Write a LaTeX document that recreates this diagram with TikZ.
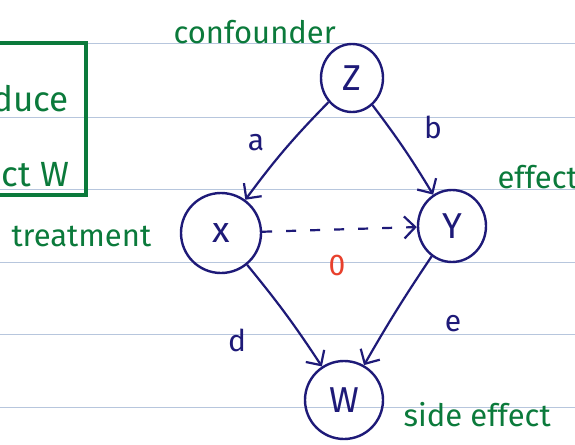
\documentclass[tikz,border=0pt]{standalone}
\usepackage{fontspec}
\setmainfont{Fira Sans}
\usetikzlibrary{arrows.meta,shapes.geometric}
\definecolor{ink}{HTML}{1E1A78}
\definecolor{pen}{HTML}{0B7A3B}
\definecolor{redpen}{HTML}{E8402C}
\definecolor{rule}{HTML}{B7C6DD}
\tikzset{
  var/.style={draw=ink, line width=2.4pt, ellipse, text=ink, font=\fontsize{36}{40}\selectfont, inner sep=0pt},
  arr/.style={draw=ink, line width=2.2pt, -{Straight Barb[length=11pt,width=22pt,line width=2.2pt]}},
  lab/.style={text=ink, font=\fontsize{30}{34}\selectfont},
  note/.style={text=pen, font=\fontsize{31}{35}\selectfont},
  bignote/.style={text=pen, font=\fontsize{35}{40}\selectfont},
  rl/.style={draw=rule, line width=1pt}
}
\begin{document}
\begin{tikzpicture}[x=1pt,y=-1pt]
\useasboundingbox (0,0) rectangle (575,444);
\clip (0,0) rectangle (575,444);
\fill[white] (0,0) rectangle (575,444);
% ruled paper
\foreach \y/\n in {44/r1,117/r2,189/r3,262/r4,334/r5,407/r6}
  \draw[rl] (0,\y) coordinate (\n a) -- (575,\y) coordinate (\n b);
% green box with note
\draw[pen, line width=3.5pt] (-20,43) rectangle (86,195);
\node[bignote, anchor=base east] (t1) at (72,111) {produce};
\node[bignote, anchor=base east] (t2) at (73,186) {effect W};
% variables
\node[var, minimum width=62pt, minimum height=68pt] (Z) at (352,78) {Z};
\node[var, minimum width=80pt, minimum height=80pt] (X) at (221,233) {x};
\node[var, minimum width=68pt, minimum height=72pt] (Y) at (452,226) {Y};
\node[var, minimum width=78pt, minimum height=78pt] (W) at (344,400) {W};
% annotations
\node[note, anchor=base west] (cf) at (170,44) {confounder};
\node[note, anchor=base west] (tr) at (8,246) {treatment};
\node[note, anchor=base west] (ef) at (494,188) {effect};
\node[note, anchor=base west] (se) at (400,426) {side effect};
% edges
\draw[arr] (Z) to[bend right=4] (X);
\draw[arr] (Z) to[bend left=3] (Y);
\draw[arr] (X) to[bend left=3] (W);
\draw[arr] (Y) to[bend right=2] (W);
\draw[arr, dashed, dash pattern=on 10pt off 14pt] (X) -- (Y);
% edge labels
\node[lab] (la) at (256,143) {a};
\node[lab] (lb) at (433,127) {b};
\node[lab] (ld) at (237,340) {d};
\node[lab] (le) at (453,324) {e};
\node[text=redpen, font=\fontsize{30}{34}\selectfont] (l0) at (337,265) {0};
\end{tikzpicture}
\end{document}
